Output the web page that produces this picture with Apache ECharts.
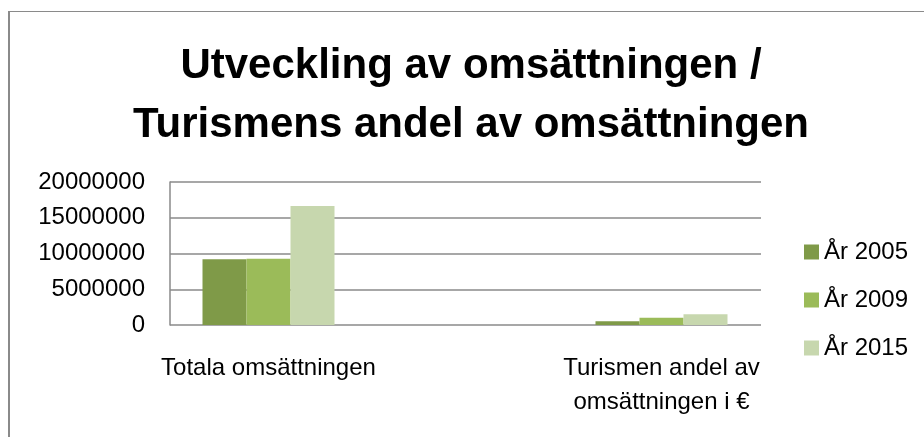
<!DOCTYPE html>
<html>
<head>
<meta charset="utf-8">
<script src="https://cdn.jsdelivr.net/npm/echarts@6/dist/echarts.min.js"></script>
<style>
  html, body { margin: 0; padding: 0; background: #fff; }
  #chart { width: 924px; height: 437px; }
</style>
</head>
<body>
<div id="chart"></div>
<script>
// data
var categories = ['Totala omsättningen', 'Turismen andel av\nomsättningen i €'];
var years = ['År 2005', 'År 2009', 'År 2015'];
var values2005 = [9190000, 530000];
var values2009 = [9270000, 1010000];
var values2015 = [16640000, 1510000];
var yTicks = [0, 20000000, 5000000]; // min, max, interval

var colors = ['#7f9a48', '#9bbb59', '#c7d7ae'];
var font = '"Liberation Sans", Arial, sans-serif';

var myChart = echarts.init(document.getElementById('chart'));

var option = {
  backgroundColor: '#fff',
  animation: false,
  textStyle: { fontFamily: font },
  title: {
    text: 'Utveckling av omsättningen /\nTurismens andel av omsättningen',
    left: 466,
    top: 32,
    textAlign: 'center',
    textStyle: {
      fontFamily: font,
      fontSize: 42,
      fontWeight: 'bold',
      lineHeight: 59,
      color: '#000'
    }
  },
  legend: {
    orient: 'vertical',
    left: 804,
    top: 240,
    padding: 0,
    itemWidth: 15,
    itemHeight: 15,
    itemGap: 24,
    icon: 'rect',
    data: years,
    textStyle: { fontFamily: font, fontSize: 24, lineHeight: 24, color: '#000' }
  },
  grid: [
    // bars
    { left: 72, right: 66, top: 182, bottom: 112 },
    // grid lines and value axis
    { left: 170, right: 163, top: 182, bottom: 112 }
  ],
  xAxis: [
    {
      type: 'category',
      gridIndex: 0,
      data: categories,
      axisLine: { show: false },
      axisTick: { show: false },
      axisLabel: {
        margin: 26,
        fontFamily: font,
        fontSize: 24,
        lineHeight: 34,
        color: '#000'
      }
    },
    {
      type: 'category',
      gridIndex: 1,
      data: [''],
      axisLine: { show: false },
      axisTick: { show: false },
      axisLabel: { show: false }
    }
  ],
  yAxis: [
    {
      type: 'value',
      gridIndex: 0,
      min: yTicks[0],
      max: yTicks[1],
      interval: yTicks[2],
      show: false
    },
    {
      type: 'value',
      gridIndex: 1,
      min: yTicks[0],
      max: yTicks[1],
      interval: yTicks[2],
      axisLine: { show: true, lineStyle: { color: '#8a8a8a', width: 1.5 } },
      axisTick: { show: false },
      splitLine: { show: true, lineStyle: { color: '#8a8a8a', width: 1.5 } },
      axisLabel: {
        margin: 25,
        fontFamily: font,
        fontSize: 24,
        color: '#000',
        formatter: function(v) { return String(v); }
      }
    }
  ],
  series: [
    { name: years[0], type: 'bar', xAxisIndex: 0, yAxisIndex: 0, data: values2005,
      barWidth: 44, barGap: '0%', itemStyle: { color: colors[0] } },
    { name: years[1], type: 'bar', xAxisIndex: 0, yAxisIndex: 0, data: values2009,
      barWidth: 44, barGap: '0%', itemStyle: { color: colors[1] } },
    { name: years[2], type: 'bar', xAxisIndex: 0, yAxisIndex: 0, data: values2015,
      barWidth: 44, barGap: '0%', itemStyle: { color: colors[2] } }
  ],
  graphic: [
    // chart area border (left and top edges are visible)
    { type: 'line', silent: true, shape: { x1: 9, y1: 11, x2: 9, y2: 437 },
      style: { stroke: '#8a8a8a', lineWidth: 2 } },
    { type: 'line', silent: true, shape: { x1: 8, y1: 11.5, x2: 924, y2: 11.5 },
      style: { stroke: '#8a8a8a', lineWidth: 1 } }
  ]
};

myChart.setOption(option);
</script>
</body>
</html>
